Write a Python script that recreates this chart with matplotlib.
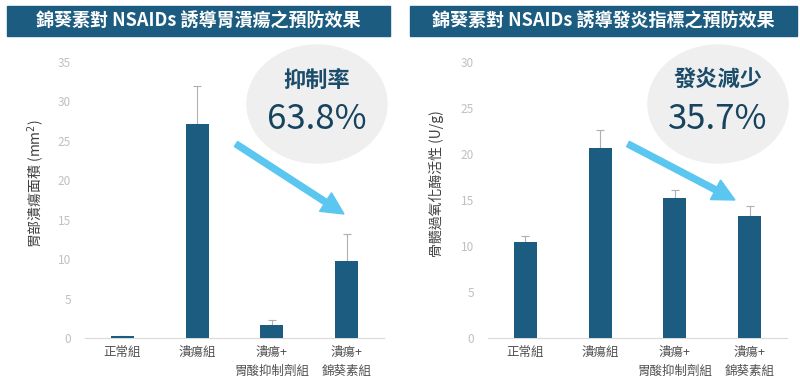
import matplotlib.pyplot as plt
from matplotlib.patches import Ellipse, Rectangle, FancyArrow

plt.rcParams['font.family'] = ['Noto Sans CJK TC', 'DejaVu Sans']

# data
groups = ['正常組', '潰瘍組', '潰瘍+\n胃酸抑制劑組', '潰瘍+\n錦葵素組']
ulcer_area = [0.2, 27.1, 1.7, 9.8]
ulcer_err = [0.0, 4.9, 0.6, 3.4]
mpo_activity = [10.4, 20.6, 15.2, 13.3]
mpo_err = [0.7, 2.0, 0.9, 1.0]

titles = ['錦葵素對 NSAIDs 誘導胃潰瘍之預防效果', '錦葵素對 NSAIDs 誘導發炎指標之預防效果']
ylabels = ['胃部潰瘍面積 (mm$^2$)', '骨髓過氧化酶活性 (U/g)']
badge_top = ['抑制率', '發炎減少']
badge_pct = ['63.8%', '35.7%']

bar_color = '#1b5c80'
W, H = 800, 392
fig = plt.figure(figsize=(8, 3.92), dpi=100)

def fx(px):
    return px / W

def fy(py):
    return 1 - py / H

# overlay axis in pixel coordinates for decorations
deco = fig.add_axes([0, 0, 1, 1], zorder=0)
deco.set_xlim(0, W)
deco.set_ylim(H, 0)
deco.axis('off')

panels = [
    dict(left=85, right=384, ymax=35, vals=ulcer_area, err=ulcer_err, lx=-0.128),
    dict(left=488, right=787, ymax=30, vals=mpo_activity, err=mpo_err, lx=-0.148),
]
top_px, bot_px = 62, 338

for i, p in enumerate(panels):
    ax = fig.add_axes([fx(p['left']), fy(bot_px), fx(p['right'] - p['left']), (bot_px - top_px) / H], zorder=2)
    ax.patch.set_alpha(0)
    x = range(len(groups))
    ax.bar(x, p['vals'], width=0.31, color=bar_color, zorder=3)
    ax.errorbar(x, p['vals'], yerr=[[0] * 4, p['err']], fmt='none', ecolor='#b0b0b0',
                elinewidth=0.8, capsize=3, capthick=0.8, zorder=2)
    ax.set_xlim(-0.5, 3.5)
    ax.set_ylim(0, p['ymax'])
    ax.set_yticks(range(0, p['ymax'] + 1, 5))
    ax.set_xticks(list(x))
    ax.set_xticklabels(groups, fontsize=9, color='#505050', linespacing=1.55, va='top')
    ax.tick_params(axis='x', length=0, pad=6)
    ax.tick_params(axis='y', length=0, labelsize=8.5, labelcolor='#c0c0c0', pad=10)
    for s in ['top', 'right', 'left']:
        ax.spines[s].set_visible(False)
    ax.spines['bottom'].set_color('#d9d9d9')
    ax.set_ylabel(ylabels[i], fontsize=10, color='#404040')
    ax.yaxis.set_label_coords(p['lx'], 0.56)

# banners
for bx0, bx1, t in [(7, 390, titles[0]), (410, 797, titles[1])]:
    deco.add_patch(Rectangle((bx0, 6), bx1 - bx0, 30, color=bar_color, zorder=1))
    deco.text((bx0 + bx1) / 2, 21.5, t, color='white', fontsize=13, fontweight='bold',
              ha='center', va='center', zorder=2)

# badges
for cx, t1, t2 in [(317, badge_top[0], badge_pct[0]), (718, badge_top[1], badge_pct[1])]:
    deco.add_patch(Ellipse((cx, 104), 140, 118, color='#efefef', zorder=1))
    deco.text(cx, 80, t1, fontsize=16, fontweight='bold', color='#1b4d6a', ha='center', va='center', zorder=2)
    deco.text(cx, 119, t2, fontsize=25, color='#16435e', ha='center', va='center', zorder=2)

# arrows
for x0, y0, x1, y1 in [(236, 144, 344, 214), (628, 144, 735, 200)]:
    deco.add_patch(FancyArrow(x0, y0, x1 - x0, y1 - y0, width=6, head_width=22, head_length=22,
                              length_includes_head=True, color='#5bc6f0', zorder=3))

fig.savefig('out.png', dpi=100)
